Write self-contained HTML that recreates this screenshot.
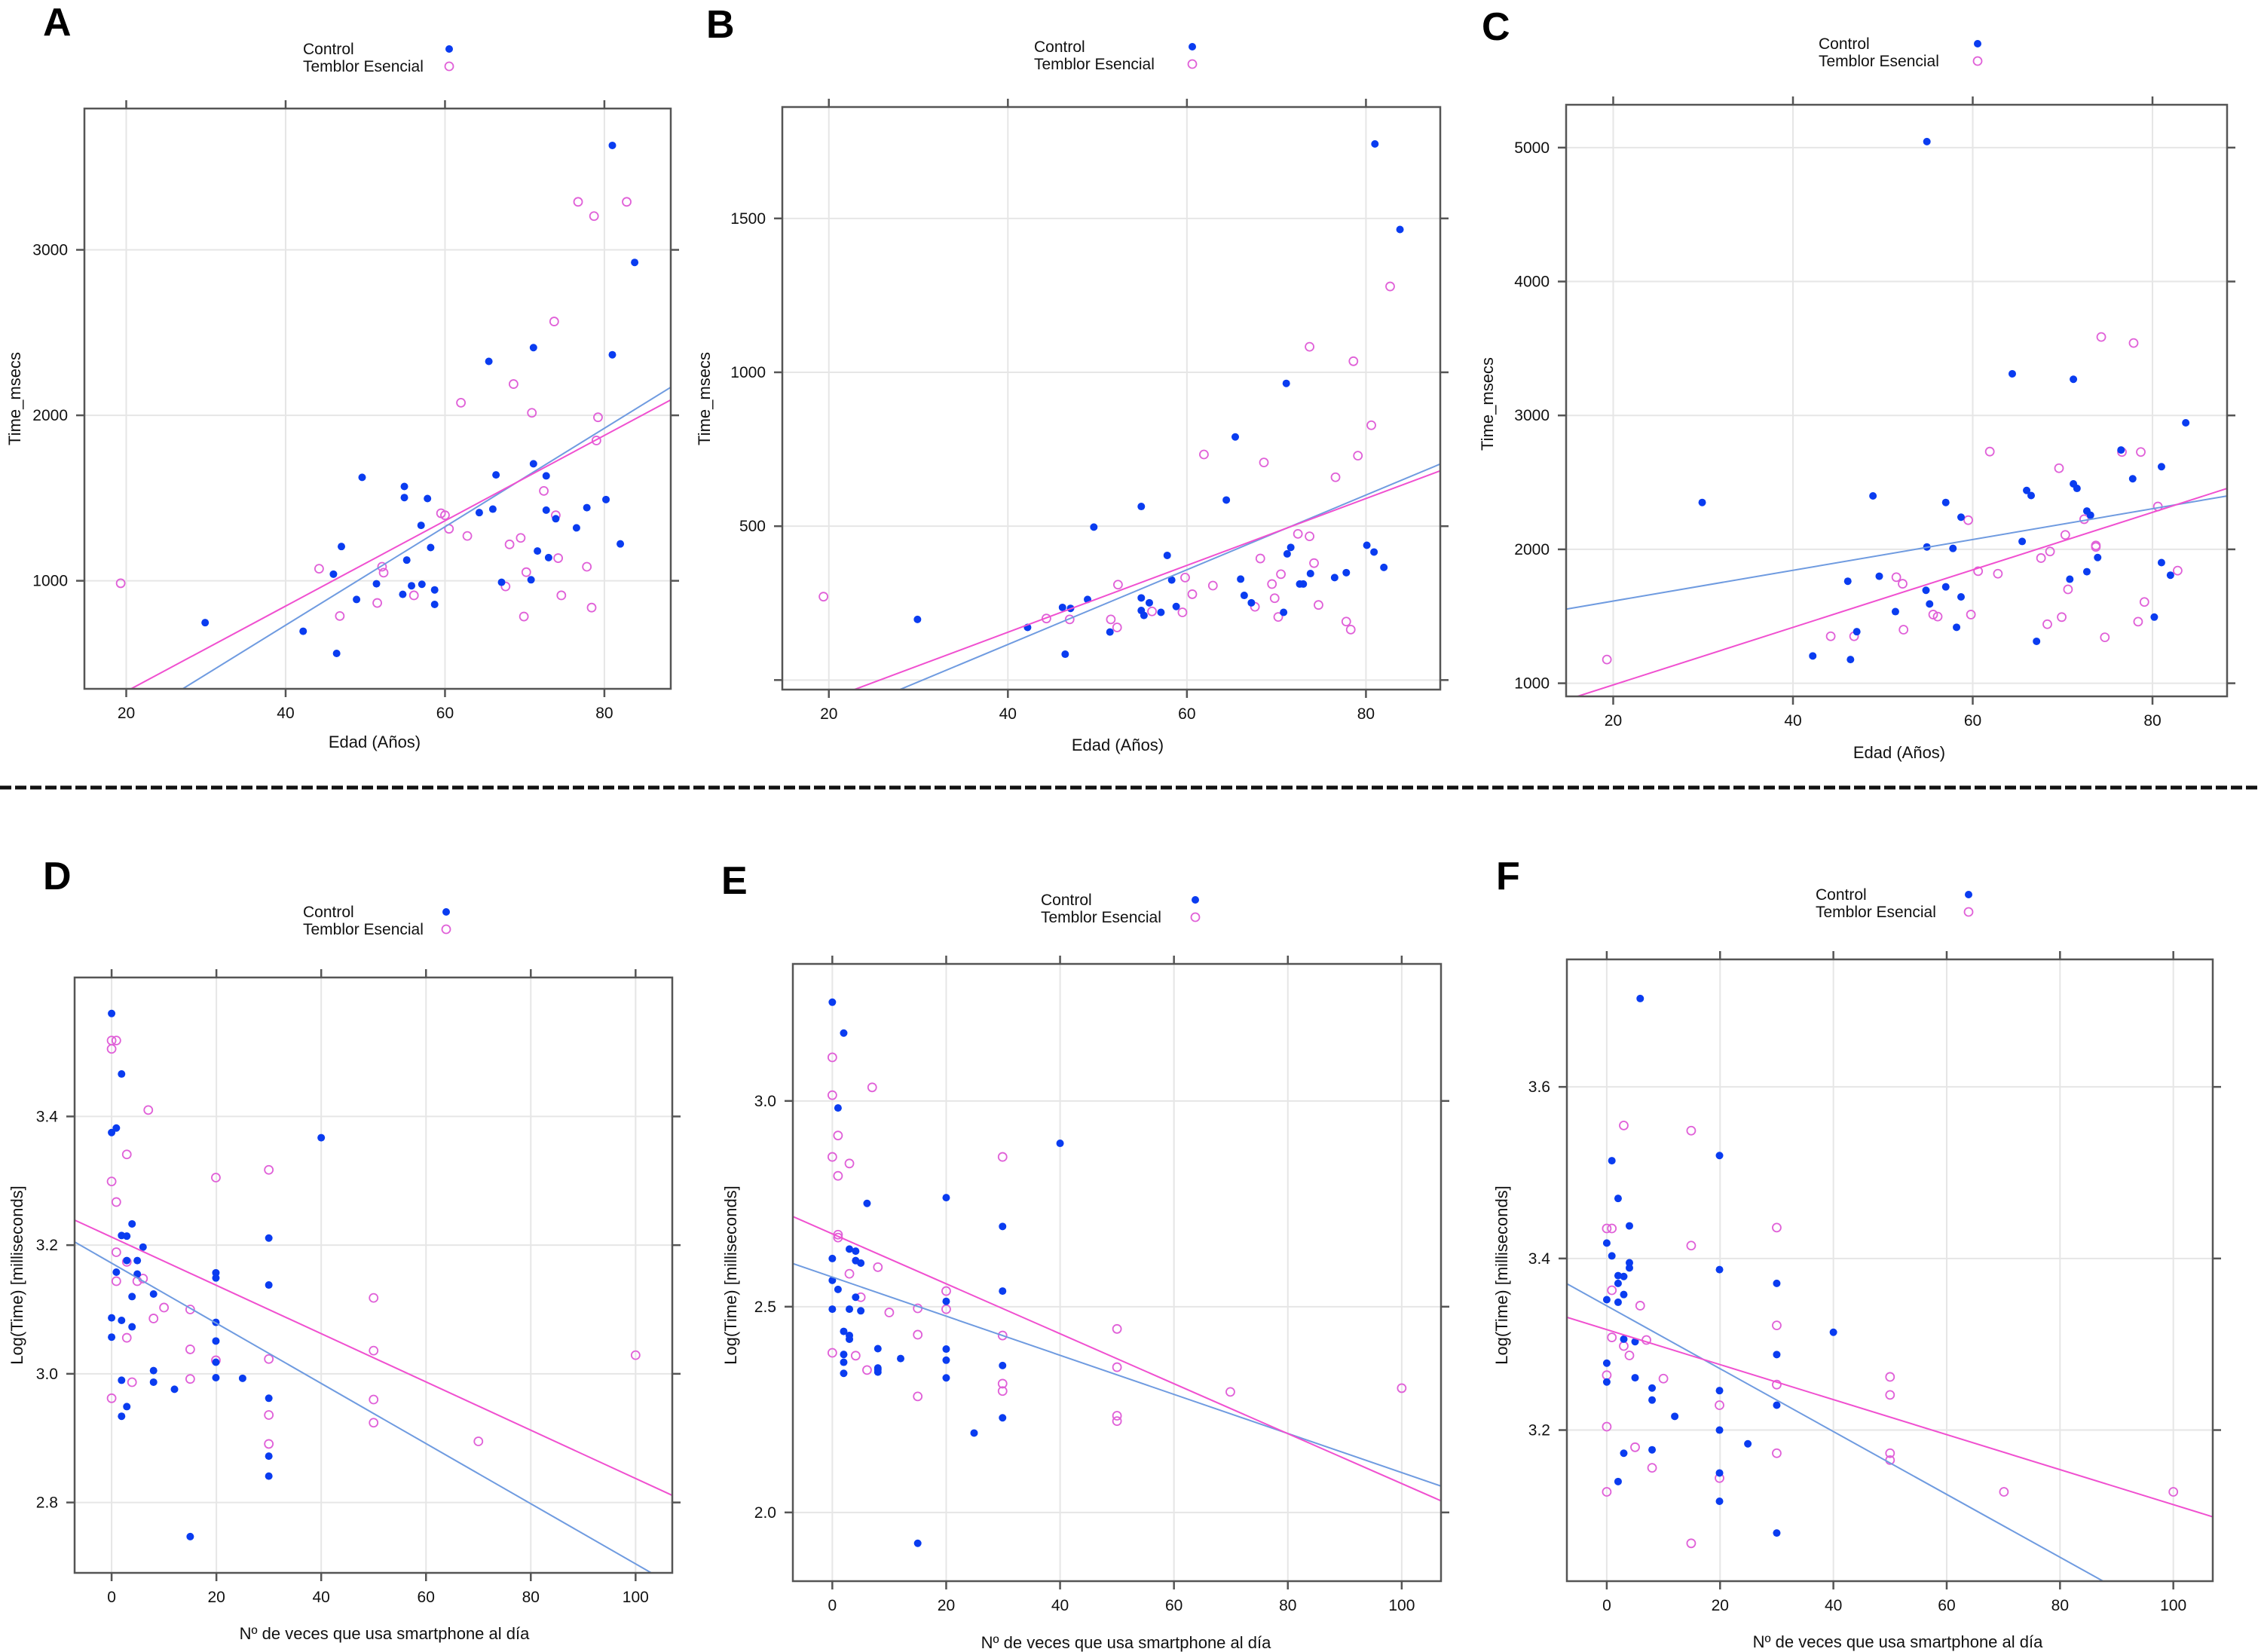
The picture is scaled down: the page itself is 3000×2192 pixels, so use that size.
<!DOCTYPE html>
<html><head><meta charset="utf-8"><style>
html,body{margin:0;padding:0;background:#fff;}
svg{display:block;font-family:"Liberation Sans",Arial,sans-serif;}
</style></head><body>
<svg id="fig" width="3000" height="2192" viewBox="0 0 3000 2192" xmlns="http://www.w3.org/2000/svg">
<rect width="3000" height="2192" fill="#fff"/>
<line x1="0" y1="1045" x2="3000" y2="1045" stroke="#111" stroke-width="5" stroke-dasharray="15,5"/>
</svg>
<script>
// Panel A: Edad vs Time_msecs (Set 1)
const aCtrlX=[81,83.8,65.5,71.1,81,49.6,54.9,54.9,57.8,57,71.1,72.7,66.4,64.3,66,72.7,73.9,76.5,77.8,80.2,82,71.6,73,58.2,55.2,47,46,51.4,48.9,54.7,55.8,57.1,58.7,58.7,67.1,70.8,42.2,46.4,29.9];
const aCtrlY=[3631,2924,2326,2409,2366,1625,1570,1503,1497,1335,1707,1634,1640,1412,1433,1427,1375,1320,1442,1491,1223,1180,1140,1201,1125,1207,1040,982,887,918,970,979,945,857,991,1006,695,561,747];
const aTeX=[19.3,76.7,82.8,78.7,73.7,68.6,62,70.9,79.2,79,72.4,59.5,60,73.9,60.5,62.8,69.5,68.1,44.2,52.1,52.3,70.2,74.2,77.8,67.6,56.1,74.6,51.5,46.8,69.9,78.4];
const aTeY=[985,3290,3290,3204,2567,2189,2076,2015,1988,1848,1543,1408,1396,1396,1314,1271,1259,1220,1073,1085,1049,1052,1137,1085,966,912,912,866,787,784,838];
const aFit=[[-459,29.76],[-184,25.78]];
// Panel B
const bCtrlX=[81,83.8,71.1,65.4,64.4,54.9,49.6,57.8,58.3,66,71.2,71.6,80.1,80.9,82,77.8,76.5,73.8,72.6,48.9,54.9,55.8,46.1,47,54.9,55.2,57.1,58.8,66.4,67.2,70.8,42.2,51.4,46.4,29.9,73];
const bCtrlY=[1742,1464,964,790,585,564,497,405,325,328,410,431,438,416,366,349,333,346,312,262,267,251,236,233,226,210,220,239,275,251,220,171,156,84,197,312];
const bTeX=[19.4,82.7,73.7,78.6,80.6,61.9,68.6,79.1,76.6,72.4,73.7,68.2,74.2,59.8,70.5,52.3,62.9,69.5,60.6,69.8,74.7,44.3,51.5,46.9,52.2,56.1,59.5,67.6,70.2,77.8,78.3];
const bTeY=[271,1279,1083,1036,828,733,707,729,659,475,467,395,380,333,344,310,307,312,279,266,244,200,197,197,171,223,220,238,205,190,164];
const bFit=[[-370,12.14],[-279,10.86]];
// Panel C
const cCtrlX=[54.9,64.4,71.2,83.7,76.5,77.8,81,29.9,48.9,57,58.7,66,66.5,71.2,71.6,72.7,73.1,54.9,57.8,65.5,73.9,81,82,49.6,46.1,70.8,72.7,54.8,57,58.7,55.2,51.4,80.2,58.2,47.1,42.2,46.4,67.1];
const cCtrlY=[5045,3311,3270,2945,2742,2527,2617,2350,2399,2350,2240,2440,2402,2489,2455,2286,2255,2018,2007,2059,1939,1901,1807,1799,1762,1777,1833,1694,1720,1645,1592,1535,1494,1418,1385,1204,1177,1313];
const cTeX=[19.3,74.3,77.9,61.9,76.6,78.7,69.6,80.6,59.5,72.4,70.3,73.7,73.7,68.6,67.6,60.6,62.8,82.8,51.5,52.2,70.6,79.1,55.6,56.1,59.8,69.9,52.3,68.3,78.4,44.2,46.8,74.7];
const cTeY=[1177,3586,3541,2730,2727,2727,2606,2320,2218,2225,2108,2029,2018,1984,1935,1837,1818,1841,1792,1743,1701,1607,1513,1498,1513,1494,1400,1441,1460,1351,1351,1343];
const cFit=[[1384,11.49],[558,21.48]];
// Panel D
const dCtrlX=[0,1.9,0,0.9,3.9,1.9,2.9,6,2.9,4.9,0.9,4.9,3.9,8,0,1.9,3.9,0,19.9,19.9,30,30,40,19.9,19.9,19.9,19.9,25,8,8,1.9,12,2.9,1.9,30,30,30,15];
const dCtrlY=[3.560,3.466,3.375,3.382,3.233,3.215,3.214,3.197,3.176,3.176,3.158,3.155,3.120,3.124,3.087,3.083,3.073,3.057,3.157,3.149,3.211,3.138,3.367,3.080,3.051,3.018,2.994,2.993,3.005,2.987,2.990,2.976,2.949,2.934,2.962,2.872,2.841,2.747];
const dTeX=[0,0.9,0,7,2.9,0,0.9,0.9,0.9,6,4.9,2.9,19.9,30,10,15,8,2.9,15,15,3.9,0,19.9,30,30,30,50,50,50,50,70,100];
const dTeY=[3.518,3.518,3.505,3.410,3.341,3.299,3.267,3.189,3.144,3.148,3.144,3.174,3.305,3.317,3.103,3.100,3.086,3.056,3.038,2.992,2.987,2.962,3.021,3.023,2.936,2.891,3.118,3.036,2.960,2.924,2.895,3.029];
const dFit=[[3.172,-0.004674],[3.2125,-0.003752]];
// Panel E
const eCtrlX=[0,2,1,6.1,20,40,29.9,29.9,0,3,4.1,4.1,5,0,1,4.1,0,3,5,20,2,3,3,2,2,2,8,8,8,8,12,20,20,20,29.9,29.9,24.9,15];
const eCtrlY=[3.240,3.165,2.983,2.751,2.765,2.897,2.695,2.538,2.617,2.640,2.635,2.612,2.606,2.564,2.542,2.523,2.494,2.494,2.490,2.513,2.440,2.430,2.421,2.384,2.365,2.338,2.398,2.351,2.341,2.347,2.374,2.397,2.370,2.327,2.357,2.230,2.193,1.925];
const eTeX=[0,0,7,1,0,3,1,1,1,8,3,5,10,15,20,20,15,29.9,29.9,0,4.1,6.1,15,29.9,29.9,50,50,50,50,69.9,100];
const eTeY=[3.106,3.014,3.033,2.916,2.864,2.848,2.818,2.675,2.668,2.596,2.580,2.523,2.486,2.496,2.538,2.494,2.432,2.864,2.430,2.388,2.381,2.346,2.282,2.313,2.295,2.446,2.353,2.235,2.222,2.293,2.302];
const eFit=[[2.572,-0.004752],[2.677,-0.006069]];
// Panel F
const fCtrlX=[5.9,0.9,19.9,2,4,0,0.9,4,4,19.9,2,3,2,30,3,0,2,40,3,5,30,0,5,0,8,8,19.9,30,12,19.9,24.9,8,3,19.9,2,19.9,30];
const fCtrlY=[3.703,3.514,3.520,3.470,3.438,3.418,3.403,3.395,3.389,3.387,3.380,3.379,3.371,3.371,3.358,3.352,3.349,3.314,3.306,3.303,3.288,3.278,3.261,3.256,3.249,3.235,3.246,3.229,3.216,3.200,3.184,3.177,3.173,3.150,3.140,3.117,3.080];
const fTeX=[3,14.9,0,0.9,30,14.9,0.9,5.9,30,0.9,7,3,4,0,10,50,30,50,19.9,0,5,30,50,50,8,19.9,0,70.1,100,14.9];
const fTeY=[3.555,3.549,3.435,3.435,3.436,3.415,3.363,3.345,3.322,3.308,3.305,3.298,3.287,3.264,3.260,3.262,3.253,3.241,3.229,3.204,3.180,3.173,3.173,3.165,3.156,3.144,3.128,3.128,3.128,3.068];
const fFit=[[3.3448,-0.003663],[3.3171,-0.00204]];
// Tick values
const ageTicks=[20,40,60,80];
const useTicks=[0,20,40,60,80,100];
const aYTicks=[1000,2000,3000];
const bYTicks=[0,500,1000,1500];
const bYLabels=['','500','1000','1500'];
const cYTicks=[1000,2000,3000,4000,5000];
const dYTicks=[2.8,3.0,3.2,3.4];
const eYTicks=[2.0,2.5,3.0];
const fYTicks=[3.2,3.4,3.6];

const NS='http://www.w3.org/2000/svg';
const svg=document.getElementById('fig');
function mk(tag,attrs,parent){const e=document.createElementNS(NS,tag);for(const k in attrs)e.setAttribute(k,attrs[k]);(parent||svg).appendChild(e);return e;}
function txt(s,attrs,parent){const e=mk('text',attrs,parent);e.textContent=s;return e;}

const panels=[
 {id:'a',L:'A',lx:57,ly:47,box:[112,144,890,914],xd:[14.75,88.33],yd:[347,3854],xt:ageTicks,yt:aYTicks,yl:null,dec:0,cx:aCtrlX,cy:aCtrlY,tx:aTeX,ty:aTeY,fit:aFit,xtitle:'Edad (Años)',ytitle:'Time_msecs',xtx:497,xty:984,ytx:19,yty:529,leg:[402,596,65]},
 {id:'b',L:'B',lx:937,ly:50,box:[1038,142,1911,915],xd:[14.8,88.3],yd:[-31,1862],xt:ageTicks,yt:bYTicks,yl:bYLabels,dec:0,cx:bCtrlX,cy:bCtrlY,tx:bTeX,ty:bTeY,fit:bFit,xtitle:'Edad (Años)',ytitle:'Time_msecs',xtx:1483,xty:988,ytx:934,yty:529,leg:[1372,1582,62]},
 {id:'c',L:'C',lx:1966,ly:53,box:[2078,139,2955,924],xd:[14.76,88.3],yd:[902,5320],xt:ageTicks,yt:cYTicks,yl:null,dec:0,cx:cCtrlX,cy:cCtrlY,tx:cTeX,ty:cTeY,fit:cFit,xtitle:'Edad (Años)',ytitle:'Time_msecs',xtx:2520,xty:998,ytx:1973,yty:536,leg:[2413,2624,58]},
 {id:'d',L:'D',lx:57,ly:1180,box:[99,1297,892,2087],xd:[-7.06,107],yd:[2.6906,3.616],xt:useTicks,yt:dYTicks,yl:null,dec:1,cx:dCtrlX,cy:dCtrlY,tx:dTeX,ty:dTeY,fit:dFit,xtitle:'Nº de veces que usa smartphone al día',ytitle:'Log(Time) [milliseconds]',xtx:510,xty:2167,ytx:22,yty:1692,leg:[402,592,1210]},
 {id:'e',L:'E',lx:957,ly:1186,box:[1052,1279,1912,2098],xd:[-6.93,106.9],yd:[1.833,3.333],xt:useTicks,yt:eYTicks,yl:null,dec:1,cx:eCtrlX,cy:eCtrlY,tx:eTeX,ty:eTeY,fit:eFit,xtitle:'Nº de veces que usa smartphone al día',ytitle:'Log(Time) [milliseconds]',xtx:1494,xty:2179,ytx:969,yty:1692,leg:[1381,1586,1194]},
 {id:'f',L:'F',lx:1985,ly:1180,box:[2079,1273,2936,2098],xd:[-7.04,106.96],yd:[3.0239,3.7486],xt:useTicks,yt:fYTicks,yl:null,dec:1,cx:fCtrlX,cy:fCtrlY,tx:fTeX,ty:fTeY,fit:fFit,xtitle:'Nº de veces que usa smartphone al día',ytitle:'Log(Time) [milliseconds]',xtx:2518,xty:2178,ytx:1992,yty:1692,leg:[2409,2612,1187]}
];
const BLUE='#0a3cf0',PINK='#e060d8',BLUEL='#6f9be0',PINKL='#f050d0';

panels.forEach(p=>{
 const g=mk('g',{});
 
 
 const [x0,y0,x1,y1]=p.box;
 const sx=v=>x0+(v-p.xd[0])/(p.xd[1]-p.xd[0])*(x1-x0);
 const sy=v=>y1-(v-p.yd[0])/(p.yd[1]-p.yd[0])*(y1-y0);
 const lt=txt(p.L,{x:p.lx,y:p.ly,'font-size':52,'font-weight':'bold',fill:'#000'},g);
 
 
 // grid
 p.xt.forEach(v=>{const l=mk('line',{x1:sx(v),x2:sx(v),y1:y0,y2:y1,stroke:'#e6e6e6','stroke-width':2},g);
  
  });
 p.yt.forEach(v=>{const l=mk('line',{x1:x0,x2:x1,y1:sy(v),y2:sy(v),stroke:'#e6e6e6','stroke-width':2},g);
  
  });
 // ticks & labels
 p.xt.forEach(v=>{
  const X=sx(v);
  const t1=mk('line',{x1:X,x2:X,y1:y1,y2:y1+11,stroke:'#555','stroke-width':2.5},g);
  
  
  const t2=mk('line',{x1:X,x2:X,y1:y0,y2:y0-11,stroke:'#555','stroke-width':2.5},g);
  
  
  const tl=txt(String(v),{x:X,y:y1+39,'font-size':21,'text-anchor':'middle',fill:'#111'},g);
  
  
 });
 p.yt.forEach((v,i)=>{
  const Y=sy(v);
  const t1=mk('line',{x1:x0,x2:x0-11,y1:Y,y2:Y,stroke:'#555','stroke-width':2.5},g);
  
  
  const t2=mk('line',{x1:x1,x2:x1+11,y1:Y,y2:Y,stroke:'#555','stroke-width':2.5},g);
  
  
  const s=p.yl?p.yl[i]:v.toFixed(p.dec);
  if(s){const tl=txt(s,{x:x0-22,y:Y+7,'font-size':21,'text-anchor':'end',fill:'#111'},g);
   
   }
 });
 // clip
 const cp=mk('clipPath',{id:'clip'+p.id},g);
 mk('rect',{x:x0,y:y0,width:x1-x0,height:y1-y0},cp);
 const pg=mk('g',{'clip-path':'url(#clip'+p.id+')'},g);
 
 
 p.tx.forEach((v,i)=>{const c=mk('circle',{cx:sx(v),cy:sy(p.ty[i]),r:5.5,fill:'none',stroke:PINK,'stroke-width':1.8},pg);
  
  });
 p.cx.forEach((v,i)=>{const c=mk('circle',{cx:sx(v),cy:sy(p.cy[i]),r:5,fill:BLUE},pg);
  
  });
 const cols=[BLUEL,PINKL],names=['control-fit-line','temblor-fit-line'];
 p.fit.forEach((f,k)=>{const xa=p.xd[0],xb=p.xd[1];
  const l=mk('line',{x1:sx(xa),y1:sy(f[0]+f[1]*xa),x2:sx(xb),y2:sy(f[0]+f[1]*xb),stroke:cols[k],'stroke-width':2},pg);
  
  });
 const bx=mk('rect',{x:x0,y:y0,width:x1-x0,height:y1-y0,fill:'none',stroke:'#555','stroke-width':2.5},g);
 
 
 const xt=txt(p.xtitle,{x:p.xtx,y:p.xty+8,'font-size':22,'text-anchor':'middle',fill:'#111'},g);
 
 
 const yt=txt(p.ytitle,{x:0,y:0,'font-size':22,'text-anchor':'middle',fill:'#111',transform:'translate('+(p.ytx+8)+','+p.yty+') rotate(-90)'},g);
 
 
 // legend
 const lg=mk('g',{},g);
 
 
 const [tx,mx,ly]=p.leg;
 const l1=txt('Control',{x:tx,y:ly+7,'font-size':21,fill:'#111'},lg);
 
 
 const l2=txt('Temblor Esencial',{x:tx,y:ly+30,'font-size':21,fill:'#111'},lg);
 
 
 const m1=mk('circle',{cx:mx,cy:ly,r:5,fill:BLUE},lg);
 
 
 const m2=mk('circle',{cx:mx,cy:ly+23,r:5.5,fill:'none',stroke:PINK,'stroke-width':1.8},lg);
 
 
});
</script>
</body></html>
